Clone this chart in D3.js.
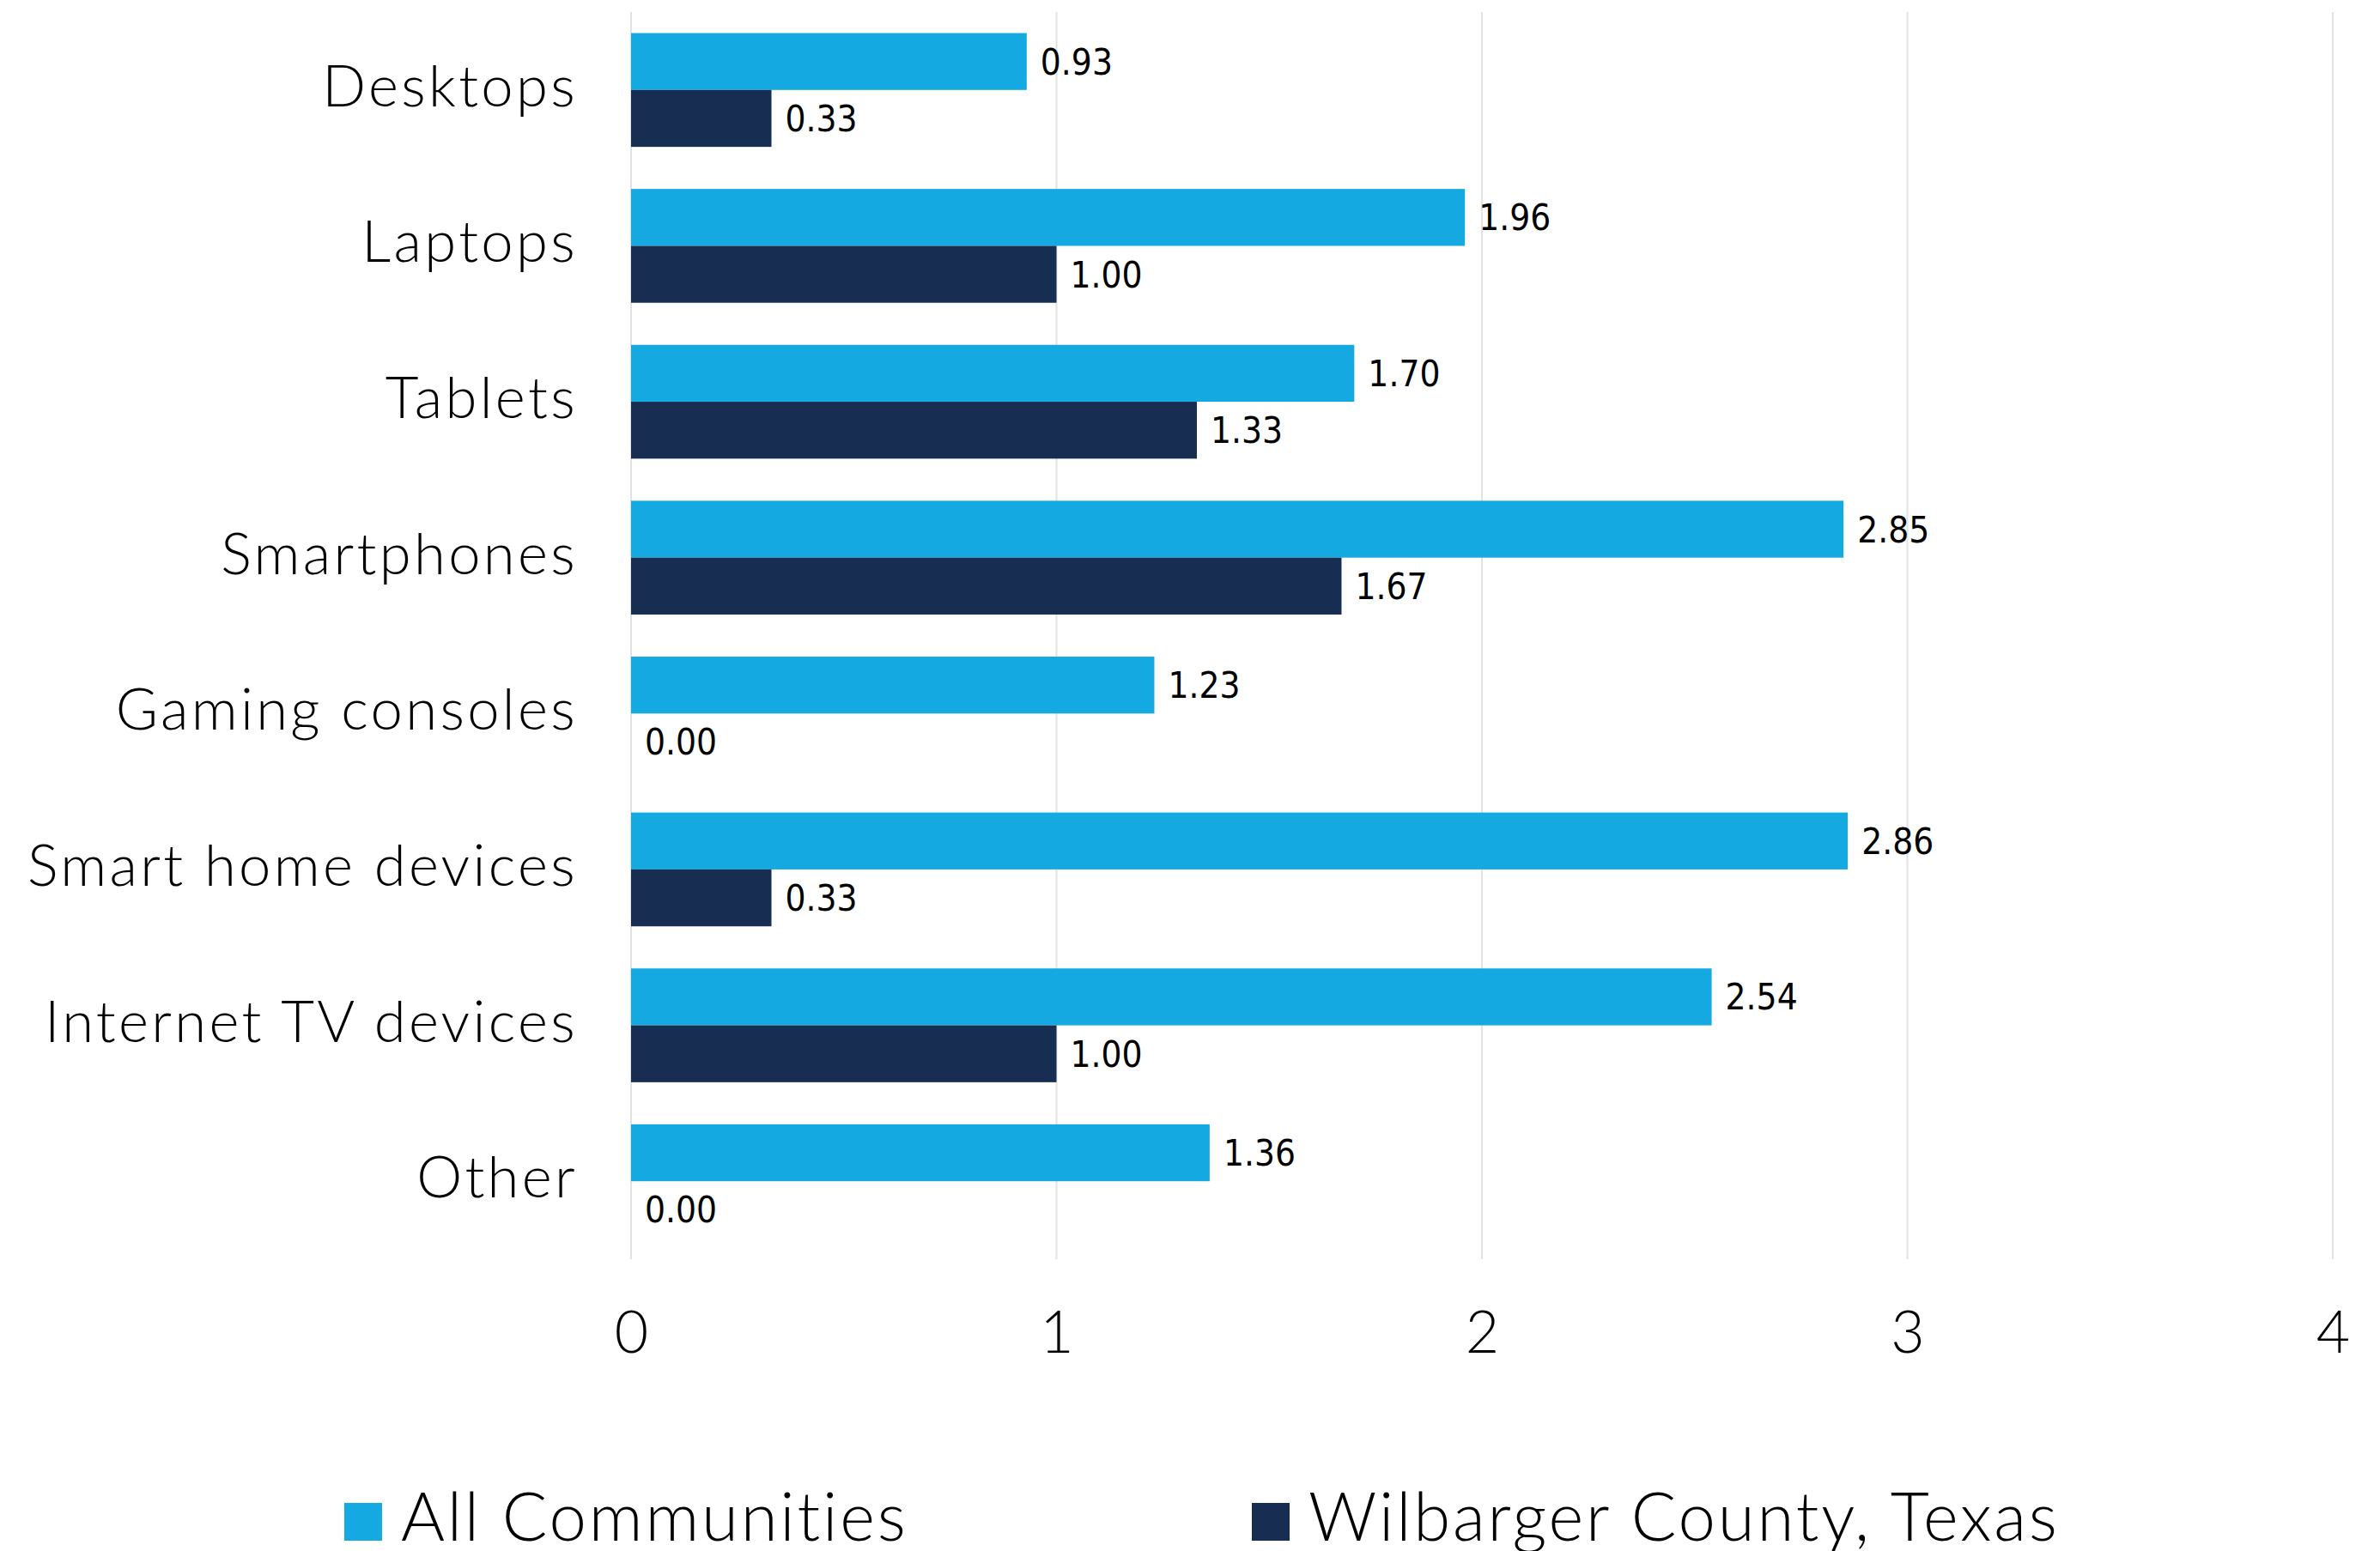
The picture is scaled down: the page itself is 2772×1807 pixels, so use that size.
<!DOCTYPE html>
<html>
<head>
<meta charset="utf-8">
<script src="https://cdn.jsdelivr.net/npm/d3@7"></script>
<style>
  body { margin: 0; background: #fff; }
</style>
</head>
<body>
<div id="chart"></div>
<script>
var categories = ["Desktops", "Laptops", "Tablets", "Smartphones", "Gaming consoles", "Smart home devices", "Internet TV devices", "Other"];
var seriesNames = ["All Communities", "Wilbarger County, Texas"];
var allCommunities = [0.93, 1.96, 1.70, 2.85, 1.23, 2.86, 2.54, 1.36];
var wilbarger = [0.33, 1.00, 1.33, 1.67, 0.00, 0.33, 1.00, 0.00];
var xTicks = [0, 1, 2, 3, 4];
var colors = ["#14aae1", "#172e52"];

var width = 2772,
    height = 1807;
var margin = { top: 14, left: 735, right: 55, bottom: 340 };

var rows = categories.map(function (c, i) {
    return { cat: c, values: [allCommunities[i], wilbarger[i]] };
});

var svg = d3.select("#chart")
    .append("svg")
    .attr("xmlns", "http://www.w3.org/2000/svg")
    .attr("width", width)
    .attr("height", height);

var x = d3.scaleLinear().domain([0, 4]).range([margin.left, width - margin.right]);
var y = d3.scaleBand().domain(categories)
    .range([margin.top, height - margin.bottom])
    .paddingInner(0.27).paddingOuter(0.135);
var ySub = d3.scaleBand().domain([0, 1]).range([0, y.bandwidth()]);

// grid
svg.append("g")
    .selectAll("line")
    .data(xTicks)
    .enter()
    .append("line")
    .attr("x1", function (d) { return x(d) })
    .attr("x2", function (d) { return x(d) })
    .attr("y1", margin.top)
    .attr("y2", height - margin.bottom)
    .attr("stroke", "#e2e2e2")
    .attr("stroke-width", 2);

// x tick labels
var xAxis = d3.axisBottom(x).tickValues(xTicks).tickSize(0).tickPadding(0).tickFormat(d3.format("d"));
var gx = svg.append("g")
    .attr("transform", "translate(0," + (height - margin.bottom) + ")")
    .call(xAxis);
gx.select(".domain").remove();
gx.selectAll("text")
    .attr("dy", null)
    .attr("y", 109)
    .attr("fill", "#000")
    .attr("style", "font: 300 68px Lato, 'Open Sans', sans-serif");

// y labels
var yAxis = d3.axisLeft(y).tickSize(0).tickPadding(62);
var gy = svg.append("g")
    .attr("transform", "translate(" + margin.left + ",0)")
    .call(yAxis);
gy.select(".domain").remove();
gy.selectAll("text")
    .attr("dy", null)
    .attr("y", 19)
    .attr("fill", "#000")
    .attr("style", "font: 300 67px Lato, 'Open Sans', sans-serif; letter-spacing: 3.3px");

// bars
var groups = svg.selectAll(".row")
    .data(rows)
    .enter()
    .append("g")
    .attr("class", "row")
    .attr("transform", function (d) { return "translate(0," + y(d.cat) + ")" });

groups.selectAll("rect")
    .data(function (d) { return d.values })
    .enter()
    .append("rect")
    .attr("x", x(0))
    .attr("y", function (d, i) { return ySub(i) })
    .attr("height", ySub.bandwidth())
    .attr("width", function (d) { return x(d) - x(0) })
    .attr("fill", function (d, i) { return colors[i] });

groups.selectAll(".val")
    .data(function (d) { return d.values })
    .enter()
    .append("text")
    .attr("class", "val")
    .attr("x", function (d) { return x(d) + 16 })
    .attr("y", function (d, i) { return ySub(i) + ySub.bandwidth() / 2 + 15 })
    .attr("style", "font: 42px 'Liberation Sans Narrow', 'DejaVu Sans Condensed', sans-serif")
    .attr("fill", "#000")
    .text(function (d) { return d.toFixed(2) });

// legend
var legendX = [401, 1458];
var leg = svg.selectAll(".legend")
    .data(seriesNames)
    .enter()
    .append("g")
    .attr("class", "legend")
    .attr("transform", function (d, i) { return "translate(" + legendX[i] + ",1751)" });

leg.append("rect")
    .attr("width", 44)
    .attr("height", 44)
    .attr("fill", function (d, i) { return colors[i] });

leg.append("text")
    .attr("x", 66)
    .attr("y", 44)
    .attr("style", "font: 300 78px Lato, 'Open Sans', sans-serif; letter-spacing: 2.8px")
    .attr("fill", "#000")
    .text(function (d) { return d });
</script>
</body>
</html>
